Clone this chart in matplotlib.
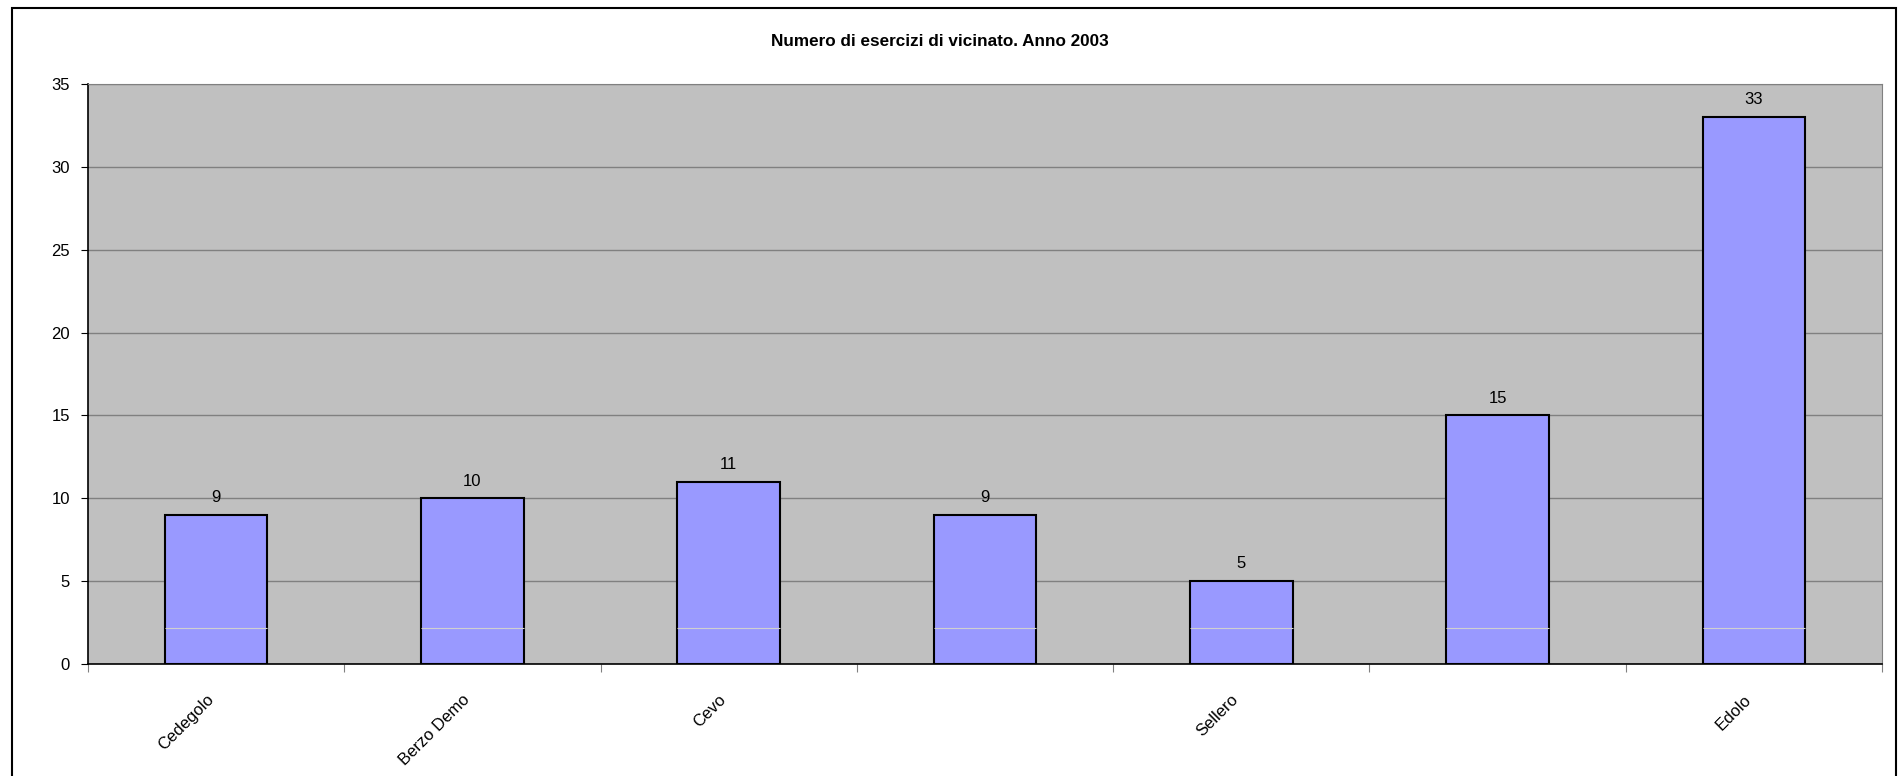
import matplotlib.pyplot as plt
from matplotlib.patches import Rectangle
from matplotlib.transforms import ScaledTranslation

comuni = ['Cedegolo', 'Berzo Demo', 'Cevo', '', 'Sellero', '', 'Edolo']
esercizi = [9, 10, 11, 9, 5, 15, 33]
y_ticks = [0, 5, 10, 15, 20, 25, 30, 35]

plt.rcParams['font.family'] = ['Liberation Sans', 'DejaVu Sans']

W, H = 1903, 776
fig = plt.figure(figsize=(W / 100, H / 100), dpi=100)

# cornice esterna del grafico
fig.patches.append(Rectangle((12 / W, -0.05), (1896 - 12) / W, 1.05 - 8 / H,
                             transform=fig.transFigure, fill=False,
                             edgecolor='black', linewidth=1.5))

left, right, top, bottom = 88, 1882, 84, 664
ax = fig.add_axes([left / W, 1 - bottom / H, (right - left) / W, (bottom - top) / H])
ax.set_facecolor('#C0C0C0')

x = list(range(len(comuni)))
bars = ax.bar(x, esercizi, width=0.4, color='#9999FF', edgecolor='black',
              linewidth=1.5, zorder=3)
for b, v in zip(bars, esercizi):
    ax.annotate(str(v), (b.get_x() + b.get_width() / 2, v), xytext=(0, 7),
                textcoords='offset points', ha='center', va='bottom', fontsize=12)
    # linea chiara che attraversa le barre nell'originale
    ax.hlines(2.2, b.get_x(), b.get_x() + b.get_width(), color='#D0D0D0',
              linewidth=0.8, zorder=4)

ax.set_xlim(-0.5, len(comuni) - 0.5)
ax.set_ylim(0, 35)
ax.set_yticks(y_ticks)
ax.tick_params(axis='y', labelsize=12, length=5, color='black', pad=8)
ax.yaxis.grid(True, color='#808080', linewidth=1, zorder=1)
ax.set_axisbelow(True)

ax.set_xticks([i - 0.5 for i in range(len(comuni) + 1)])
ax.set_xticklabels([])
ax.tick_params(axis='x', length=6, color='#808080')
ax.set_xticks(x, minor=True)
ax.set_xticklabels(comuni, minor=True, rotation=45, ha='right', va='center',
                   rotation_mode='anchor', fontsize=12)
ax.tick_params(axis='x', which='minor', length=0, pad=24)
shift = ScaledTranslation(-5 / 100, 0, fig.dpi_scale_trans)
for lbl in ax.get_xticklabels(minor=True):
    lbl.set_transform(lbl.get_transform() + shift)

for s in ['top', 'right']:
    ax.spines[s].set_color('#808080')
for s in ['left', 'bottom']:
    ax.spines[s].set_color('black')
    ax.spines[s].set_linewidth(1.2)

fig.text(940 / W, 1 - 42 / H, 'Numero di esercizi di vicinato. Anno 2003',
         ha='center', va='center', fontsize=12.3, fontweight='bold')

fig.savefig('out.png', dpi=100)
